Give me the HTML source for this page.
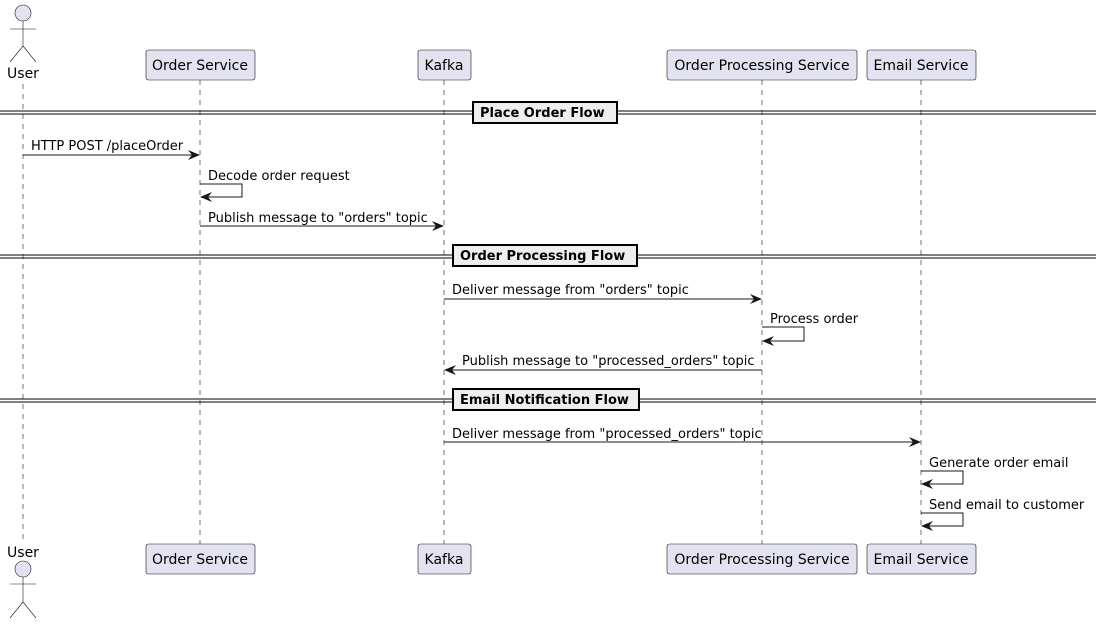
<!DOCTYPE html>
<html><head><meta charset="utf-8"><style>body{margin:0;background:#fff}svg{display:block}</style></head><body>
<svg width="1096" height="624" viewBox="0 0 1096 624" xmlns="http://www.w3.org/2000/svg" font-family="DejaVu Sans, Liberation Sans, sans-serif" font-size="13">
<defs><marker id="a" viewBox="0 0 12 10" refX="11" refY="5" markerWidth="12" markerHeight="10" markerUnits="userSpaceOnUse" orient="auto"><path d="M0,0 L12,5 L0,10 L4,5 Z" fill="#181818"/></marker></defs>
<g stroke="#181818" stroke-width="0.6" stroke-dasharray="5,5">
<line x1="23" y1="84" x2="23" y2="544"/><line x1="200" y1="80" x2="200" y2="544"/><line x1="444" y1="80" x2="444" y2="544"/><line x1="762" y1="80" x2="762" y2="544"/><line x1="921" y1="80" x2="921" y2="544"/>
</g>
<g fill="#e2e2f0" stroke="#181818" stroke-width="0.6">
<rect x="146" y="50" width="109" height="30" rx="2.5"/><rect x="418" y="50" width="53" height="30" rx="2.5"/><rect x="667" y="50" width="190" height="30" rx="2.5"/><rect x="867" y="50" width="109" height="30" rx="2.5"/>
<rect x="146" y="544" width="109" height="30" rx="2.5"/><rect x="418" y="544" width="53" height="30" rx="2.5"/><rect x="667" y="544" width="190" height="30" rx="2.5"/><rect x="867" y="544" width="109" height="30" rx="2.5"/>
<circle cx="23" cy="13" r="8"/><circle cx="23" cy="569" r="8"/>
</g>
<g stroke="#181818" stroke-width="0.6" fill="none">
<path d="M23,21V46M10,29H36M10,62L23,46L36,62"/>
<path d="M23,577V602M10,584H36M10,618L23,602L36,618"/>
</g>
<g fill="#000" text-anchor="middle" font-size="14">
<text x="23" y="78">User</text><text x="23" y="557">User</text>
<text x="200" y="70">Order Service</text><text x="444" y="70">Kafka</text><text x="762" y="70">Order Processing Service</text><text x="921" y="70">Email Service</text>
<text x="200" y="564">Order Service</text><text x="444" y="564">Kafka</text><text x="762" y="564">Order Processing Service</text><text x="921" y="564">Email Service</text>
</g>
<g stroke="#000" stroke-width="1" fill="none">
<path d="M0,111H1096M0,114H1096"/><path d="M0,255H1096M0,258H1096"/><path d="M0,399H1096M0,402H1096"/>
</g>
<g fill="#eeeeee" stroke="#000" stroke-width="2">
<rect x="473" y="102" width="144" height="21"/><rect x="453" y="245" width="184" height="21"/><rect x="453" y="389" width="186" height="21"/>
</g>
<g font-weight="bold" fill="#000">
<text x="480" y="117">Place Order Flow</text><text x="460" y="260">Order Processing Flow</text><text x="460" y="404">Email Notification Flow</text>
</g>
<g stroke="#181818" stroke-width="1" fill="none" marker-end="url(#a)">
<line x1="23" y1="155" x2="199" y2="155"/>
<path d="M200,184H242V197H201"/>
<line x1="200" y1="226" x2="443" y2="226"/>
<line x1="444" y1="299" x2="761" y2="299"/>
<path d="M762,327H804V341H763"/>
<line x1="762" y1="370" x2="445" y2="370"/>
<line x1="444" y1="442" x2="920" y2="442"/>
<path d="M921,471H963V484H922"/>
<path d="M921,513H963V526H922"/>
</g>
<g fill="#000">
<text x="31" y="150">HTTP POST /placeOrder</text>
<text x="208" y="180">Decode order request</text>
<text x="208" y="222">Publish message to "orders" topic</text>
<text x="452" y="294">Deliver message from "orders" topic</text>
<text x="770" y="323">Process order</text>
<text x="462" y="365">Publish message to "processed_orders" topic</text>
<text x="452" y="438">Deliver message from "processed_orders" topic</text>
<text x="929" y="467">Generate order email</text>
<text x="929" y="509">Send email to customer</text>
</g>
</svg>
</body></html>
